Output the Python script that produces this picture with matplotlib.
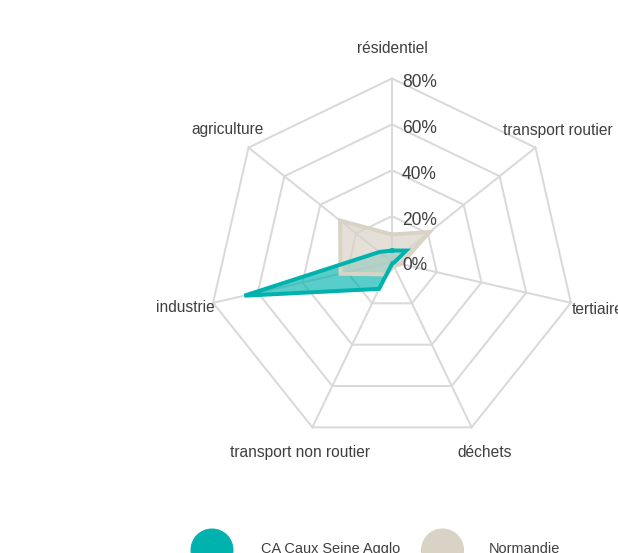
import numpy as np
import matplotlib
matplotlib.use("Agg")
import matplotlib.pyplot as plt
from matplotlib.patches import Circle

plt.rcParams['font.family'] = ['Liberation Sans', 'DejaVu Sans']

# emissions share by sector (%), clockwise from the top
categories = ["résidentiel", "transport routier", "tertiaire", "déchets",
              "transport non routier", "industrie", "agriculture"]
caux = [5, 8, 1, 0.5, 13, 66, 7]
normandie = [12, 21, 4, 2, 6, 23, 29]
ticks = [0, 20, 40, 60, 80]
tick_labels = ["0%", "20%", "40%", "60%", "80%"]
series_names = ["CA Caux Seine Agglo", "Normandie"]

TEAL = "#00b2ae"
BEIGE = "#d9d3c6"
GRID = "#d9d9d9"
TXT = "#3f3f3f"

W, H = 618, 553
fig = plt.figure(figsize=(W / 72, H / 72), dpi=72)
cx, cy, R = 392, 262, 183.5
ax = fig.add_axes([(cx - R) / W, (H - cy - R) / H, 2 * R / W, 2 * R / H],
                  projection="polar")
ax.set_theta_zero_location("N")
ax.set_theta_direction(-1)
ax.set_ylim(0, 80)
ax.grid(False)
ax.spines["polar"].set_visible(False)
ax.set_xticks([])
ax.set_yticks([])
ax.patch.set_alpha(0)

n = len(categories)
theta = np.linspace(0, 2 * np.pi, n, endpoint=False)
closed = np.append(theta, theta[0])

# heptagon rings and spokes
for t in ticks[1:]:
    ax.plot(closed, [t] * (n + 1), color=GRID, lw=2, zorder=1, clip_on=False)
for th in theta:
    ax.plot([th, th], [0, ticks[-1]], color=GRID, lw=2, zorder=1, clip_on=False)

for t, lab in zip(ticks, tick_labels):
    ax.annotate(lab, (0, t), xytext=(10, -4), textcoords="offset points",
                ha="left", va="center", fontsize=17.5, color=TXT,
                annotation_clip=False, zorder=6)

# category labels around the outer ring
label_offsets = [(0, 30, "center"), (22, 17, "center"), (1, -7, "left"),
                 (13, -25, "center"), (-12, -25, "center"), (2, -5, "right"),
                 (-21, 18, "center")]
for th, lab, (dx, dy, ha) in zip(theta, categories, label_offsets):
    ax.annotate(lab, (th, ticks[-1]), xytext=(dx, dy), textcoords="offset points",
                ha=ha, va="center", fontsize=15.5, color=TXT,
                annotation_clip=False)

v1 = np.append(caux, caux[0])
v2 = np.append(normandie, normandie[0])
ax.fill(closed, v1, color=TEAL, alpha=0.65, lw=0, zorder=2)
ax.fill(closed, v2, color=BEIGE, alpha=0.7, lw=0, zorder=3)
ax.plot(closed, v2, color=BEIGE, lw=4, zorder=4, solid_joinstyle="miter")
ax.plot(closed, v1, color=TEAL, lw=4, zorder=5, solid_joinstyle="miter")

# legend along the bottom edge
lg = fig.add_axes([0, 0, 1, 1])
lg.set_xlim(0, W)
lg.set_ylim(H, 0)
lg.axis("off")
lg.patch.set_alpha(0)
for x, col, name, tx in [(212, TEAL, series_names[0], 261),
                         (442.5, BEIGE, series_names[1], 489)]:
    lg.add_patch(Circle((x, 550), 21, color=col, clip_on=False))
    lg.text(tx, 553, name, fontsize=14.5, color=TXT, ha="left", va="baseline")

fig.savefig("out.png", dpi=72)
